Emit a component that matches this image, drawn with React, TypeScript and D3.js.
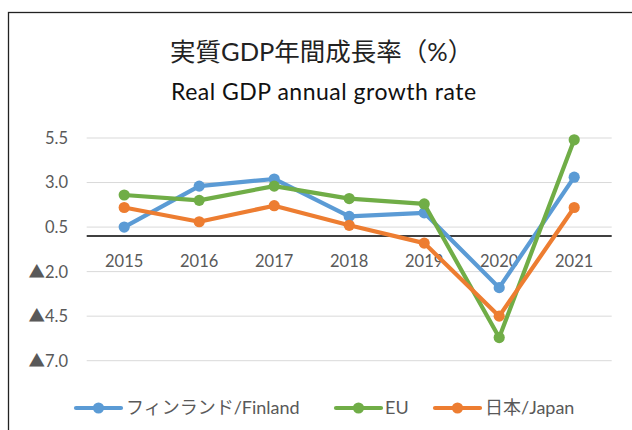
import React from "react";
import * as d3 from "d3";

const years = ["2015", "2016", "2017", "2018", "2019", "2020", "2021"];
const finland = [0.5, 2.8, 3.2, 1.1, 1.3, -2.9, 3.3];
const eu = [2.3, 2.0, 2.8, 2.1, 1.8, -5.7, 5.4];
const japan = [1.6, 0.8, 1.7, 0.6, -0.4, -4.5, 1.6];
const yTicks = [5.5, 3.0, 0.5, -2.0, -4.5, -7.0];
const seriesNames = ["フィンランド/Finland", "EU", "日本/Japan"];
const seriesColors = ["#5B9BD5", "#70AD47", "#ED7D31"];
const titleJa = "実質GDP年間成長率（%）";
const titleEn = "Real GDP annual growth rate";

const W = 632;
const H = 430;
const FONT = "Lato, 'Noto Sans CJK JP', sans-serif";

export default function App() {
  const x = d3.scaleBand<string>().domain(years).range([86.7, 611.7]).padding(0);
  const y = d3.scaleLinear().domain([-7, 5.5]).range([360.7, 138]);
  const cx = (yr: string) => (x(yr) as number) + x.bandwidth() / 2;
  const line = d3
    .line<number>()
    .x((_, i) => cx(years[i]))
    .y((d) => y(d));
  const data = [finland, eu, japan];
  const fmt = (v: number) => (v < 0 ? "▲" + Math.abs(v).toFixed(1) : v.toFixed(1));

  const legendItems = [
    { lx: 76, tx: 126 },
    { lx: 336, tx: 385 },
    { lx: 435, tx: 485 },
  ];
  const legendY = 408;

  return (
    <svg
      width={W}
      height={H}
      style={{ position: "absolute", left: 0, top: 0, background: "#fff" }}
      fontFamily={FONT}
    >
      <rect x={8.5} y={12.5} width={W + 20} height={H + 20} fill="#fff" stroke="#222" strokeWidth={1.3} />
      <text x={170} y={61} fontSize={25.5} fill="#222">
        {titleJa}
      </text>
      <text x={171} y={100} fontSize={23} letterSpacing={0.5} fill="#111">
        {titleEn}
      </text>
      {yTicks.map((t) => (
        <g key={t}>
          <line x1={86.7} x2={611.7} y1={y(t)} y2={y(t)} stroke="#d9d9d9" strokeWidth={1} />
          <text x={68} y={y(t)} dy="0.36em" textAnchor="end" fontSize={16.5} fill="#595959">
            {fmt(t)}
          </text>
        </g>
      ))}
      <line x1={86.7} x2={611.7} y1={y(0)} y2={y(0)} stroke="#000" strokeWidth={1.4} />
      {years.map((yr) => (
        <text key={yr} x={cx(yr)} y={261} dy="0.36em" textAnchor="middle" fontSize={16.5} fill="#595959">
          {yr}
        </text>
      ))}
      {data.map((s, si) => (
        <g key={si}>
          <path d={line(s) || ""} fill="none" stroke={seriesColors[si]} strokeWidth={4.2} strokeLinejoin="round" />
          {s.map((v, i) => (
            <circle key={i} cx={cx(years[i])} cy={y(v)} r={5.6} fill={seriesColors[si]} />
          ))}
        </g>
      ))}
      {seriesNames.map((n, i) => (
        <g key={n}>
          <line
            x1={legendItems[i].lx}
            x2={legendItems[i].lx + 45}
            y1={legendY}
            y2={legendY}
            stroke={seriesColors[i]}
            strokeWidth={4.2}
            strokeLinecap="round"
          />
          <circle cx={legendItems[i].lx + 22.5} cy={legendY} r={5.6} fill={seriesColors[i]} />
          <text x={legendItems[i].tx} y={legendY} dy="0.36em" fontSize={18} fill="#595959">
            {n}
          </text>
        </g>
      ))}
    </svg>
  );
}
